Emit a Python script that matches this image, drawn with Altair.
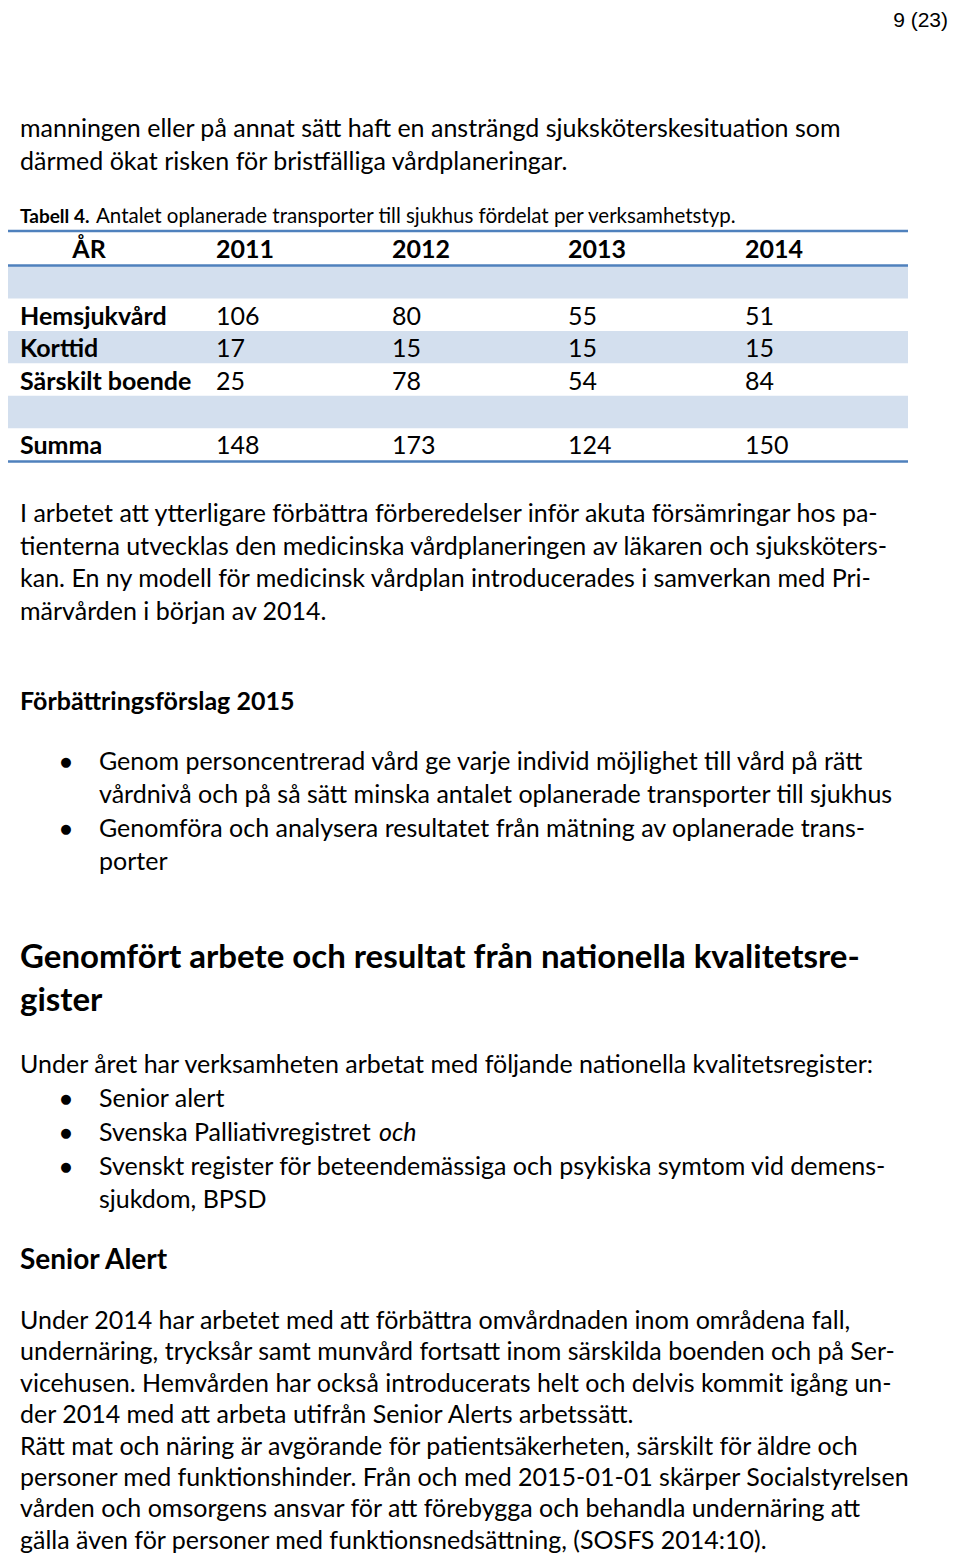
import altair as alt
import pandas as pd

# ---------------- content ----------------
page_number = "9 (23)"
intro_lines = [
    "manningen eller på annat sätt haft en ansträngd sjuksköterskesituation som",
    "därmed ökat risken för bristfälliga vårdplaneringar.",
]
caption_label = "Tabell 4."
caption_text = "Antalet oplanerade transporter till sjukhus fördelat per verksamhetstyp."
header_label = "ÅR"
years = ["2011", "2012", "2013", "2014"]
categories = ["Hemsjukvård", "Korttid", "Särskilt boende"]
hemsjukvard = [106, 80, 55, 51]
korttid = [17, 15, 15, 15]
sarskilt_boende = [25, 78, 54, 84]
summa_label = "Summa"
summa = [148, 173, 124, 150]
para1 = [
    "I arbetet att ytterligare förbättra förberedelser inför akuta försämringar hos pa-",
    "tienterna utvecklas den medicinska vårdplaneringen av läkaren och sjuksköters-",
    "kan. En ny modell för medicinsk vårdplan introducerades i samverkan med Pri-",
    "märvården i början av 2014.",
]
heading1 = "Förbättringsförslag 2015"
bullets1 = [
    ["Genom personcentrerad vård ge varje individ möjlighet till vård på rätt",
     "vårdnivå och på så sätt minska antalet oplanerade transporter till sjukhus"],
    ["Genomföra och analysera resultatet från mätning av oplanerade trans-",
     "porter"],
]
heading2 = [
    "Genomfört arbete och resultat från nationella kvalitetsre-",
    "gister",
]
para2 = ["Under året har verksamheten arbetat med följande nationella kvalitetsregister:"]
bullets2 = [
    ["Senior alert"],
    ["Svenska Palliativregistret"],
    ["Svenskt register för beteendemässiga och psykiska symtom vid demens-",
     "sjukdom, BPSD"],
]
bullets2_italic = "och"
heading3 = "Senior Alert"
para3 = [
    "Under 2014 har arbetet med att förbättra omvårdnaden inom områdena fall,",
    "undernäring, trycksår samt munvård fortsatt inom särskilda boenden och på Ser-",
    "vicehusen. Hemvården har också introducerats helt och delvis kommit igång un-",
    "der 2014 med att arbeta utifrån Senior Alerts arbetssätt.",
    "Rätt mat och näring är avgörande för patientsäkerheten, särskilt för äldre och",
    "personer med funktionshinder. Från och med 2015-01-01 skärper Socialstyrelsen",
    "vården och omsorgens ansvar för att förebygga och behandla undernäring att",
    "gälla även för personer med funktionsnedsättning, (SOSFS 2014:10).",
]

# ---------------- layout ----------------
LEFT = 20
BULLET_X = 66
BULLET_TEXT_X = 99
LINE = 32.5
BODY_FONT = "Lato"
BODY_SIZE = 25
BLUE = "#4F81BD"
BAND = "#D3DFEE"
W, H = 944, 1546

xs = alt.Scale(domain=[8, 8 + W], nice=False, zero=False)
ys = alt.Scale(domain=[8, 8 + H], reverse=True, nice=False, zero=False)


def text_layer(rows, size, weight="normal", style="normal", font=BODY_FONT, align="left"):
    df = pd.DataFrame(rows, columns=["label", "x", "y"])
    return alt.Chart(df).mark_text(
        font=font, fontSize=size, fontWeight=weight, fontStyle=style,
        align=align, baseline="middle", color="#000000",
    ).encode(
        x=alt.X("x:Q", scale=xs, axis=None),
        y=alt.Y("y:Q", scale=ys, axis=None),
        text="label:N",
    )


def block(lines, x, y0, step=LINE):
    return [(t, x, y0 + i * step) for i, t in enumerate(lines)]


body_rows = []

body_rows += block(intro_lines, LEFT, 129)
body_rows += block(para1, LEFT, 514)

bullet_rows = []
y = 762
for item in bullets1:
    bullet_rows.append(("●", BULLET_X, y))
    body_rows += block(item, BULLET_TEXT_X, y, 33)
    y += 33.5 * len(item)

body_rows += block(para2, LEFT, 1065)
y = 1099
for item in bullets2:
    bullet_rows.append(("●", BULLET_X, y))
    body_rows += block(item, BULLET_TEXT_X, y, 33)
    y += 33.8 * len(item)
italic_rows = [(bullets2_italic, 379, 1133)]

body_rows += block(para3, LEFT, 1321, 31.4)

# table
col_x = [216, 392, 568, 745]
row_top = 266
row_h = 32.45
table_rows = ["", categories[0], categories[1], categories[2], "", summa_label]
table_vals = [None, hemsjukvard, korttid, sarskilt_boende, None, summa]
cell_rows = []
row_label_rows = []
for i, (lab, vals) in enumerate(zip(table_rows, table_vals)):
    top = row_top + i * row_h
    cy = top + row_h / 2 + 2
    if vals is not None:
        row_label_rows.append((lab, LEFT, cy))
        for cx, v in zip(col_x, vals):
            cell_rows.append((str(v), cx, cy))
shaded = [0, 2, 4]
bands = pd.DataFrame({
    "x": [8] * len(shaded), "x2": [908] * len(shaded),
    "y": [row_top + i * row_h for i in shaded],
    "y2": [row_top + (i + 1) * row_h for i in shaded],
})
rules = pd.DataFrame({"x": [8, 8, 8], "x2": [908, 908, 908], "y": [231, 265.5, 461.5]})

header_rows = [(header_label, 89, 250)]
header_year_rows = [(yr, cx, 250) for yr, cx in zip(years, col_x)]

band_layer = alt.Chart(bands).mark_rect(color=BAND).encode(
    x=alt.X("x:Q", scale=xs, axis=None), x2="x2:Q",
    y=alt.Y("y:Q", scale=ys, axis=None), y2="y2:Q",
)
rule_layer = alt.Chart(rules).mark_rule(color=BLUE, strokeWidth=2.5).encode(
    x=alt.X("x:Q", scale=xs, axis=None), x2="x2:Q",
    y=alt.Y("y:Q", scale=ys, axis=None),
)

layers = [
    band_layer,
    rule_layer,
    text_layer([(page_number, 948, 21)], 21, font="Liberation Sans", align="right"),
    text_layer(body_rows, BODY_SIZE),
    text_layer(bullet_rows, 13, font="DejaVu Sans", align="center"),
    text_layer(italic_rows, BODY_SIZE, style="italic"),
    text_layer([(caption_label, LEFT, 217)], 19, weight="bold"),
    text_layer([(caption_text, 96, 217)], 20.5),
    text_layer(header_rows, BODY_SIZE, weight="bold", align="center"),
    text_layer(header_year_rows, BODY_SIZE, weight="bold"),
    text_layer(row_label_rows, BODY_SIZE, weight="bold"),
    text_layer(cell_rows, BODY_SIZE),
    text_layer([(heading1, LEFT, 702)], BODY_SIZE, weight="bold"),
    text_layer(block(heading2, LEFT, 958, 43), 33, weight="bold"),
    text_layer([(heading3, LEFT, 1261)], 28, weight="bold"),
]

chart = alt.layer(*layers).properties(
    width=W, height=H, padding=0, autosize=alt.AutoSizeParams(type="none"),
    background="white",
).configure_view(stroke=None)

chart.save("out.html", embed_options={"renderer": "svg", "actions": False})
